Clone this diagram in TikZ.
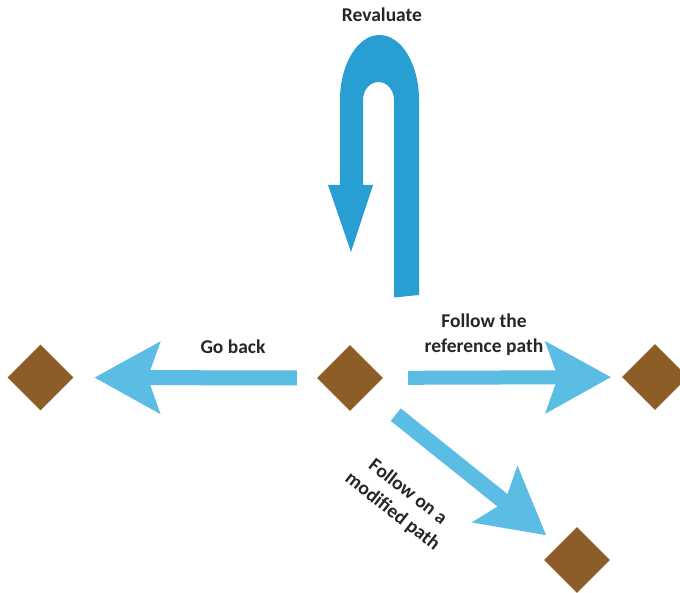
\documentclass[tikz,border=0pt]{standalone}
\usepackage{fontspec}
\setmainfont{Carlito}
\usetikzlibrary{shapes.geometric,arrows.meta}
\definecolor{turnblue}{RGB}{41,158,211}
\definecolor{arrowblue}{RGB}{91,189,227}
\definecolor{stone}{RGB}{140,93,39}
\tikzset{
  waypoint/.style={diamond,aspect=1,fill=stone,inner sep=0pt,
    minimum width=66pt,minimum height=66pt},
  move/.style={draw=arrowblue,fill=arrowblue,
    -{Stealth[length=66pt,width=73pt,inset=13pt,line width=0pt]}},
  lbl/.style={font=\bfseries\fontsize{19.5}{25}\selectfont,align=center,text=black!85}
}
\begin{document}
\begin{tikzpicture}[x=1pt,y=1pt]
\useasboundingbox[fill=white] (0,0) rectangle (680,593);

% way points
\node[waypoint] (left)  at (40.5,215.5) {};
\node[waypoint] (mid)   at (350,215) {};
\node[waypoint] (right) at (655,216) {};
\node[waypoint] (bot)   at (577,33) {};

% possible moves from the current point
\draw[move,line width=15pt,shorten <=20pt,shorten >=21pt] (mid) -- (left);
\draw[move,line width=14pt,shorten <=25pt,shorten >=11pt] (mid) -- (right);
\draw[move,line width=16pt,shorten <=35pt,shorten >=16pt] (mid) -- (bot);

% U-turn arrow
\fill[turnblue] (419,298) -- (419,493)
  arc[start angle=0,end angle=180,x radius=39.5,y radius=65]
  -- (340,408) -- (328,408) -- (351,341) -- (373,408) -- (363,408) -- (363,493)
  arc[start angle=180,end angle=0,x radius=15.5,y radius=18]
  -- (394,295.5) -- cycle;

% labels
\node[lbl] (trev)  at (382,578) {Revaluate};
\node[lbl] (tback) at (233,246) {Go back};
\node[lbl] (tref)  at (484,258.5) {Follow the\\reference path};
\node[lbl,rotate=-38] (tmod) at (400,91) {Follow on a\\modified path};
\end{tikzpicture}
\end{document}
